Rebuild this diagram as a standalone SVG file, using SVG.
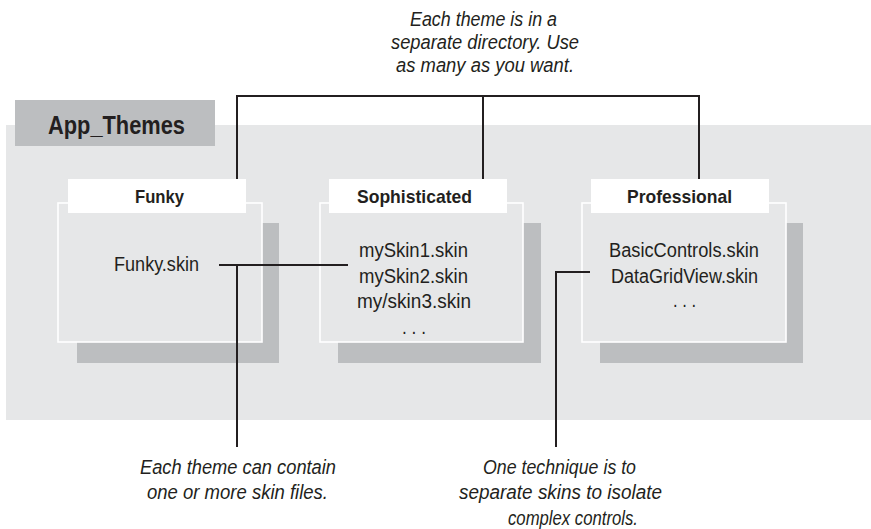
<svg xmlns="http://www.w3.org/2000/svg" width="871" height="529" viewBox="0 0 871 529">
<style>
.bg{fill:#e6e7e8}
.dark{fill:#bcbec0}
.shadow{fill:#bcbec0}
.box{fill:#e6e7e8;stroke:#ffffff;stroke-width:1.6}
.title{fill:#ffffff}
.t{font-family:"Liberation Sans",Arial,sans-serif;fill:#231f20}
.hd{font-size:18.5px;font-weight:bold}
.ct{font-size:19.5px}
.it{font-size:19.5px;font-style:italic}
.ln{fill:none;stroke:#231f20;stroke-width:2}
</style>
<rect width="871" height="529" fill="#ffffff"/>
<g id="app_themes">
<rect class="bg" x="6" y="125" width="865" height="295"/>
<rect class="dark" x="15" y="100" width="200" height="46"/>
<text class="t" x="48" y="134" font-size="25" font-weight="bold" textLength="137" lengthAdjust="spacingAndGlyphs">App_Themes</text>
</g>
<g id="funky">
<rect class="shadow" x="77" y="223" width="202" height="140"/>
<rect class="box" x="58" y="203" width="204" height="139"/>
<rect class="title" x="68" y="179" width="178" height="34"/>
<text class="t hd" x="135" y="203" textLength="49" lengthAdjust="spacingAndGlyphs">Funky</text>
<text class="t ct" x="114" y="271" textLength="85" lengthAdjust="spacingAndGlyphs">Funky.skin</text>
</g>
<g id="sophisticated">
<rect class="shadow" x="338" y="223" width="203" height="140"/>
<rect class="box" x="320" y="203" width="203" height="139"/>
<rect class="title" x="329" y="179" width="178" height="34"/>
<text class="t hd" x="357" y="203" textLength="115" lengthAdjust="spacingAndGlyphs">Sophisticated</text>
<text class="t ct" x="359" y="257" textLength="109" lengthAdjust="spacingAndGlyphs">mySkin1.skin</text>
<text class="t ct" x="359" y="283" textLength="109" lengthAdjust="spacingAndGlyphs">mySkin2.skin</text>
<text class="t ct" x="357" y="308" textLength="114" lengthAdjust="spacingAndGlyphs">my/skin3.skin</text>
<text class="t ct" x="402" y="334" textLength="24" lengthAdjust="spacingAndGlyphs">. . .</text>
</g>
<g id="professional">
<rect class="shadow" x="600" y="223" width="203" height="140"/>
<rect class="box" x="582" y="203" width="204" height="139"/>
<rect class="title" x="591" y="179" width="178" height="34"/>
<text class="t hd" x="627" y="203" textLength="105" lengthAdjust="spacingAndGlyphs">Professional</text>
<text class="t ct" x="609" y="257" textLength="150" lengthAdjust="spacingAndGlyphs">BasicControls.skin</text>
<text class="t ct" x="611" y="283" textLength="147" lengthAdjust="spacingAndGlyphs">DataGridView.skin</text>
<text class="t ct" x="673" y="307" textLength="23" lengthAdjust="spacingAndGlyphs">. . .</text>
</g>
<g id="connectors">
<path class="ln" d="M237 179 V96 H699 V179 M483 96 V179"/>
<path class="ln" d="M219 265 H348 M237 265 V447"/>
<path class="ln" d="M590 272 H556 V447"/>
</g>
<g id="note_top">
<text class="t it" x="410" y="26" textLength="147" lengthAdjust="spacingAndGlyphs">Each theme is in a</text>
<text class="t it" x="391" y="49" textLength="188" lengthAdjust="spacingAndGlyphs">separate directory. Use</text>
<text class="t it" x="396" y="72" textLength="178" lengthAdjust="spacingAndGlyphs">as many as you want.</text>
</g>
<g id="note_left">
<text class="t it" x="140" y="474" textLength="196" lengthAdjust="spacingAndGlyphs">Each theme can contain</text>
<text class="t it" x="147" y="499" textLength="181" lengthAdjust="spacingAndGlyphs">one or more skin files.</text>
</g>
<g id="note_right">
<text class="t it" x="483" y="474" textLength="153" lengthAdjust="spacingAndGlyphs">One technique is to</text>
<text class="t it" x="459" y="499" textLength="203" lengthAdjust="spacingAndGlyphs">separate skins to isolate</text>
<text class="t it" x="508" y="525" textLength="130" lengthAdjust="spacingAndGlyphs">complex controls.</text>
</g>
</svg>
